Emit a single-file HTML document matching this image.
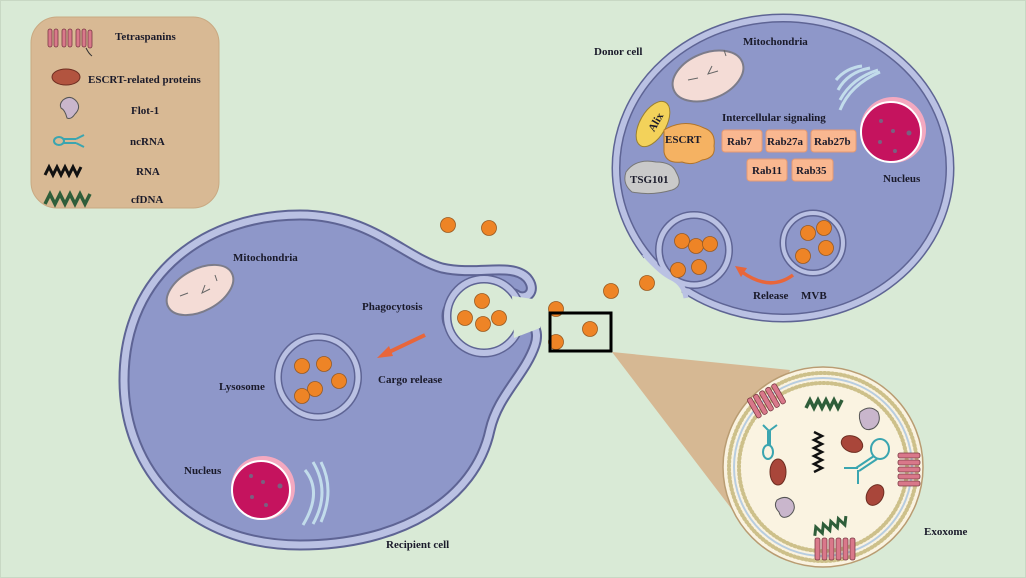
<!DOCTYPE html>
<html><head><meta charset="utf-8"><style>
html,body{margin:0;padding:0;background:#d9ead6;}
svg{display:block;}
text{font-family:"Liberation Serif",serif;font-weight:bold;fill:#1a1a2a;font-size:11px;}
</style></head><body>
<svg width="1026" height="578" viewBox="0 0 1026 578" xmlns="http://www.w3.org/2000/svg">
<rect width="1026" height="578" fill="#d9ead6"/>
<rect x="0.5" y="0.5" width="1025" height="577" fill="none" stroke="#c8d8c4"/>

<!-- legend -->
<rect x="31" y="17" width="188" height="191" rx="26" fill="#d8b994" stroke="#c9a982"/>
<g fill="#d9788a" stroke="#7a3a44" stroke-width="0.8">
<rect x="48" y="29" width="4" height="18" rx="2"/><rect x="54" y="29" width="4" height="18" rx="2"/><rect x="62" y="29" width="4" height="18" rx="2"/><rect x="68" y="29" width="4" height="18" rx="2"/><rect x="76" y="29" width="4" height="18" rx="2"/><rect x="82" y="29" width="4" height="18" rx="2"/><rect x="88" y="30" width="4" height="18" rx="2"/>
</g>
<path d="M86 48 q3 6 6 8" stroke="#333" fill="none"/>
<ellipse cx="66" cy="77" rx="14" ry="8" fill="#b2543f" stroke="#6e2e22"/>
<path d="M63 100 q8-6 14 2 q4 6-2 12 q-4 6-8 4 q-2-8-6-10 q-2-4 2-8z" fill="#c9b6cc" stroke="#555"/>
<g stroke="#3aa5b0" stroke-width="2" fill="none"><ellipse cx="59" cy="141" rx="5" ry="4"/><path d="M64 139 h12 M64 143 h12 M76 139 l8-4 M76 143 l8 4"/></g>
<path d="M45 175 l4-8 l4 8 l4-8 l4 8 l4-8 l4 8 l4-8 l4 8 l4-8" stroke="#111" stroke-width="3" fill="none"/>
<path d="M45 204 l5-10 l5 10 l5-10 l5 10 l5-10 l5 10 l5-10 l5 10 l5-10" stroke="#2f5e3a" stroke-width="3.5" fill="none"/>
<text x="115" y="40">Tetraspanins</text>
<text x="88" y="83">ESCRT-related proteins</text>
<text x="131" y="114">Flot-1</text>
<text x="130" y="145">ncRNA</text>
<text x="136" y="175">RNA</text>
<text x="131" y="203">cfDNA</text>

<!-- recipient cell -->
<path d="M124 380 C124 270 210 215 300 215 C370 215 405 258 442 268 C478 276 512 262 527 278 C537 290 528 300 518 296 C505 286 447 290 447 316 C447 345 505 345 522 325 C532 318 540 330 535 345 C525 375 498 395 490 430 C475 500 400 545 300 545 C190 545 124 470 124 380 Z" fill="#8e97c9" stroke="#5e6494" stroke-width="11" stroke-linejoin="round"/>
<path d="M124 380 C124 270 210 215 300 215 C370 215 405 258 442 268 C478 276 512 262 527 278 C537 290 528 300 518 296 C505 286 447 290 447 316 C447 345 505 345 522 325 C532 318 540 330 535 345 C525 375 498 395 490 430 C475 500 400 545 300 545 C190 545 124 470 124 380 Z" fill="none" stroke="#bac1e3" stroke-width="7" stroke-linejoin="round"/>
<circle cx="484" cy="316" r="37" fill="#d9ead6" stroke="#5e6494" stroke-width="9"/>
<circle cx="484" cy="316" r="37" fill="none" stroke="#bac1e3" stroke-width="6"/>
<path d="M512 296 L540 300 L540 328 L514 338 Z" fill="#d9ead6"/>
<circle cx="318" cy="377" r="40" fill="#8e97c9" stroke="#5e6494" stroke-width="8"/>
<circle cx="318" cy="377" r="40" fill="none" stroke="#bac1e3" stroke-width="5"/>
<ellipse cx="200" cy="290" rx="36" ry="21" transform="rotate(-28 200 290)" fill="#f4dcd6" stroke="#7c7c8a" stroke-width="2"/>
<path d="M180 296 l8-3 M205 285 l-3 8 l8-4 M215 275 l2 6" stroke="#666" fill="none"/>
<circle cx="263" cy="488" r="32" fill="#f4a9c0"/>
<circle cx="261" cy="490" r="29" fill="#c5135e" stroke="#fff" stroke-width="2"/>
<g fill="#7a6080"><circle cx="251" cy="476" r="2"/><circle cx="263" cy="482" r="2"/><circle cx="280" cy="486" r="2.5"/><circle cx="252" cy="497" r="2"/><circle cx="266" cy="505" r="2"/></g>
<g stroke="#c2dceb" stroke-width="3" fill="none"><path d="M305 470 q18 22 -2 55"/><path d="M313 462 q18 30 0 62"/><path d="M321 462 q14 28 0 60"/></g>
<path d="M425 335 L385 354" stroke="#e8663a" stroke-width="4"/><path d="M377 358 l12-12 l4 10z" fill="#e8663a"/>

<!-- donor cell -->
<ellipse cx="783" cy="168" rx="167" ry="150" fill="#8e97c9" stroke="#5e6494" stroke-width="9"/>
<ellipse cx="783" cy="168" rx="167" ry="150" fill="none" stroke="#bac1e3" stroke-width="6"/>
<circle cx="694" cy="250" r="35" fill="#8e97c9" stroke="#5e6494" stroke-width="8"/>
<circle cx="694" cy="250" r="35" fill="none" stroke="#bac1e3" stroke-width="5"/>
<path d="M646 256 Q662 274 672 278 Q682 284 682 296 L668 300 L640 262 Z" fill="#d9ead6"/>
<path d="M644 254 Q662 274 672 278" stroke="#bac1e3" stroke-width="5" fill="none"/>
<path d="M672 278 Q684 284 686 298" stroke="#bac1e3" stroke-width="5" fill="none"/>
<circle cx="813" cy="243" r="30" fill="#8e97c9" stroke="#5e6494" stroke-width="7"/>
<circle cx="813" cy="243" r="30" fill="none" stroke="#bac1e3" stroke-width="4"/>
<ellipse cx="708" cy="76" rx="37" ry="23" transform="rotate(-22 708 76)" fill="#f4dcd6" stroke="#7c7c8a" stroke-width="2"/>
<path d="M688 80 l10-2 M712 66 l-4 8 l10-3 M724 50 l2 6" stroke="#666" fill="none"/>
<g stroke="#c2dceb" stroke-width="3" fill="none"><path d="M840 110 q10-25 40-38"/><path d="M840 100 q12-22 38-30"/><path d="M838 90 q10-18 32-22"/><path d="M836 80 q10-12 26-14"/></g>
<circle cx="893" cy="130" r="33" fill="#f4a9c0"/>
<circle cx="891" cy="132" r="30" fill="#c5135e" stroke="#fff" stroke-width="2"/>
<g fill="#7a6080"><circle cx="881" cy="121" r="2"/><circle cx="893" cy="131" r="2"/><circle cx="909" cy="133" r="2.5"/><circle cx="880" cy="142" r="2"/><circle cx="895" cy="151" r="2"/></g>
<ellipse cx="653" cy="124" rx="13" ry="25" transform="rotate(30 653 124)" fill="#f3d25a" stroke="#9a8030"/>
<text x="648" y="130" transform="rotate(-60 653 126)" font-size="10">Alix</text>
<path d="M664 130 q20-12 40 -2 q12 4 10 18 q2 12-12 14 q-10 6-20 2 q-16 2-18-10 z" fill="#f5b262" stroke="#b0742a"/>
<text x="665" y="143">ESCRT</text>
<path d="M626 172 q10-14 30-10 q16 0 20 10 q8 14-4 18 q-20 6-40 2 q-10-8-6-20z" fill="#c9c9c9" stroke="#777"/>
<text x="630" y="183">TSG101</text>
<g fill="#f9b790" stroke="#e59a72">
<rect x="722" y="130" width="40" height="22" rx="3"/><rect x="766" y="130" width="41" height="22" rx="3"/><rect x="811" y="130" width="45" height="22" rx="3"/>
<rect x="747" y="159" width="40" height="22" rx="3"/><rect x="792" y="159" width="41" height="22" rx="3"/></g>
<text x="727" y="145">Rab7</text><text x="767" y="145">Rab27a</text><text x="814" y="145">Rab27b</text>
<text x="752" y="174">Rab11</text><text x="796" y="174">Rab35</text>
<path d="M793 275 Q770 292 742 272" stroke="#e8663a" stroke-width="3.5" fill="none"/><path d="M735 266 l12 2 l-6 9z" fill="#e8663a"/>

<!-- dots -->
<g fill="#ee8426" stroke="#9a5a20" stroke-width="0.8">
<circle cx="448" cy="225" r="7.5"/><circle cx="489" cy="228" r="7.5"/><circle cx="611" cy="291" r="7.5"/><circle cx="647" cy="283" r="7.5"/>
<circle cx="556" cy="309" r="7.5"/><circle cx="556" cy="342" r="7.5"/><circle cx="590" cy="329" r="7.5"/>
<circle cx="682" cy="241" r="7.5"/><circle cx="696" cy="246" r="7.5"/><circle cx="710" cy="244" r="7.5"/><circle cx="678" cy="270" r="7.5"/><circle cx="699" cy="267" r="7.5"/>
<circle cx="808" cy="233" r="7.5"/><circle cx="824" cy="228" r="7.5"/><circle cx="803" cy="256" r="7.5"/><circle cx="826" cy="248" r="7.5"/>
<circle cx="482" cy="301" r="7.5"/><circle cx="465" cy="318" r="7.5"/><circle cx="483" cy="324" r="7.5"/><circle cx="499" cy="318" r="7.5"/>
<circle cx="302" cy="366" r="7.5"/><circle cx="324" cy="364" r="7.5"/><circle cx="339" cy="381" r="7.5"/><circle cx="315" cy="389" r="7.5"/><circle cx="302" cy="396" r="7.5"/>
</g>
<rect x="550" y="313" width="61" height="38" fill="none" stroke="#000" stroke-width="3"/>

<!-- zoom cone + exosome -->
<polygon points="612,352 790,370 740,520" fill="#d6b893"/>
<circle cx="823" cy="467" r="100" fill="#faf3e1" stroke="#b99c72" stroke-width="1.5"/>
<circle cx="823" cy="467" r="94" fill="none" stroke="#cdc08a" stroke-width="4" stroke-dasharray="1 3" stroke-linecap="round"/>
<circle cx="823" cy="467" r="89" fill="none" stroke="#b8cde0" stroke-width="2"/>
<circle cx="823" cy="467" r="84" fill="none" stroke="#cdc08a" stroke-width="4" stroke-dasharray="1 3" stroke-linecap="round"/>
<circle cx="823" cy="467" r="80" fill="#faf3e1"/>
<g fill="#d9788a" stroke="#7a3a44" stroke-width="0.8">
<g transform="rotate(-30 770 400)"><rect x="750" y="388" width="5" height="22" rx="2"/><rect x="757" y="388" width="5" height="22" rx="2"/><rect x="764" y="388" width="5" height="22" rx="2"/><rect x="771" y="388" width="5" height="22" rx="2"/><rect x="778" y="388" width="5" height="22" rx="2"/></g>
<g transform="rotate(90 910 470)"><rect x="893" y="460" width="5" height="22" rx="2"/><rect x="900" y="460" width="5" height="22" rx="2"/><rect x="907" y="460" width="5" height="22" rx="2"/><rect x="914" y="460" width="5" height="22" rx="2"/><rect x="921" y="460" width="5" height="22" rx="2"/></g>
<g><rect x="815" y="538" width="5" height="22" rx="2"/><rect x="822" y="538" width="5" height="22" rx="2"/><rect x="829" y="538" width="5" height="22" rx="2"/><rect x="836" y="538" width="5" height="22" rx="2"/><rect x="843" y="538" width="5" height="22" rx="2"/><rect x="850" y="538" width="5" height="22" rx="2"/></g>
</g>
<path d="M806 408 l4-8 l4 8 l4-8 l4 8 l4-8 l4 8 l4-8 l4 8 l4-8" stroke="#2f5e3a" stroke-width="3.5" fill="none"/>
<path d="M812 530 l4-8 l4 8 l4-8 l4 8 l4-8 l4 8 l4-8 l4 8 l4-8" stroke="#2f5e3a" stroke-width="3" fill="none" transform="rotate(-20 830 525)"/>
<path d="M814 432 l8 4 l-8 4 l8 4 l-8 4 l8 4 l-8 4 l8 4 l-8 4 l8 4 l-8 4" stroke="#111" stroke-width="2.5" fill="none"/>
<g fill="#a9463a" stroke="#6e2e22"><ellipse cx="852" cy="444" rx="11" ry="8" transform="rotate(20 852 444)"/><ellipse cx="778" cy="472" rx="8" ry="13"/><ellipse cx="875" cy="495" rx="8" ry="11" transform="rotate(30 875 495)"/></g>
<g fill="#c9b6cc" stroke="#555"><path d="M860 412 q10-8 18 0 q4 10-4 16 q-8 4-12-2 q-4-8-2-14z"/><path d="M777 500 q10-6 16 2 q4 8-4 14 q-8 4-10-4 q-6-6-2-12z"/></g>
<g stroke="#3aa5b0" stroke-width="2" fill="none"><ellipse cx="768" cy="452" rx="5" ry="7"/><path d="M768 445 v-14 M770 445 v-14 M769 431 l-6-6 M769 431 l8-6"/>
<ellipse cx="880" cy="449" rx="9" ry="10"/><path d="M874 456 l-18 12 M877 459 l-18 12 M858 468 l-14 0 M858 470 l0 14"/></g>

<!-- labels -->
<text x="594" y="55">Donor cell</text>
<text x="743" y="45">Mitochondria</text>
<text x="722" y="121">Intercellular signaling</text>
<text x="883" y="182">Nucleus</text>
<text x="801" y="299">MVB</text>
<text x="753" y="299">Release</text>
<text x="233" y="261">Mitochondria</text>
<text x="362" y="310">Phagocytosis</text>
<text x="378" y="383">Cargo release</text>
<text x="219" y="390">Lysosome</text>
<text x="184" y="474">Nucleus</text>
<text x="386" y="548">Recipient cell</text>
<text x="924" y="535">Exoxome</text>
</svg>
</body></html>
